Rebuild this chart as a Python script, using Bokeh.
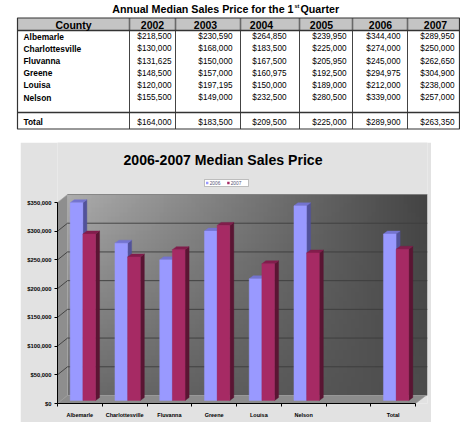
import numpy as np
from bokeh.plotting import figure
from bokeh.models import Range1d, FixedTicker, NumeralTickFormatter, Label, ColumnDataSource
from bokeh.core.properties import value
from bokeh.embed import file_html
from bokeh.resources import INLINE

# ---------------- data ----------------
years = ["2002", "2003", "2004", "2005", "2006", "2007"]
counties = ["Albemarle", "Charlottesville", "Fluvanna", "Greene", "Louisa", "Nelson"]
v2002 = [218500, 130000, 131625, 148500, 120000, 155500]
v2003 = [230590, 168000, 150000, 157000, 197195, 149000]
v2004 = [264850, 183500, 167500, 160975, 150000, 232500]
v2005 = [239950, 225000, 205950, 192500, 189000, 280500]
v2006 = [344400, 274000, 245000, 294975, 212000, 339000]
v2007 = [289950, 250000, 262650, 304900, 238000, 257000]
totals = [164000, 183500, 209500, 225000, 289900, 263350]
chart_categories = counties + ["", "Total"]
chart_series = ["2006", "2007"]
y_ticks = [0, 50000, 100000, 150000, 200000, 250000, 300000, 350000]

FONT = "Liberation Sans"

# ---------------- table figure (page pixel coordinates) ----------------
A = figure(width=460, height=132, x_range=Range1d(0, 460), y_range=Range1d(132, 0),
           output_backend="svg", toolbar_location=None, min_border=0,
           x_axis_type=None, y_axis_type=None, outline_line_color=None, title=None)
A.grid.visible = False

col_edges = [17, 129, 175, 240, 299, 352, 407, 459]
hdr_top, hdr_bot, tbl_bot, sep_y = 17.5, 30, 128.5, 112
hdr_centers = [73, 152, 205, 261, 321, 380, 435]
val_right = [171, 232, 286, 346, 400, 454]
row_mid = [36.0, 48.4, 60.6, 72.5, 84.7, 97.0]
total_mid = 121.7

A.quad(left=[col_edges[0]], right=[col_edges[-1]], top=[hdr_top], bottom=[hdr_bot],
       fill_color="#c4c4c4", line_color=None)
A.multi_line(xs=[[x, x] for x in col_edges[1:-1]], ys=[[hdr_top, hdr_bot]] * 6,
             line_color="#6a6a6a", line_width=1.6)
A.multi_line(xs=[[x, x] for x in col_edges[1:-1]], ys=[[hdr_bot, tbl_bot]] * 6,
             line_color="#444444", line_width=1)
A.multi_line(xs=[[col_edges[0], col_edges[-1]]] * 2, ys=[[hdr_bot, hdr_bot], [sep_y, sep_y]],
             line_color="#333333", line_width=1.4)
A.quad(left=[col_edges[0]], right=[col_edges[-1]], top=[hdr_top], bottom=[tbl_bot],
       fill_color=None, line_color="#333333", line_width=1.2)

TXT = dict(text_font=value(FONT), text_baseline="middle", text_color="black")
A.text(x=[293], y=[8.3], text=["Annual Median Sales Price for the 1"],
       text_font_style="bold", text_font_size="10.7px", text_align="right", **TXT)
A.text(x=[294], y=[5.2], text=["st"],
       text_font_style="bold", text_font_size="5.5px", text_align="left", **TXT)
A.text(x=[300], y=[8.3], text=[" Quarter"],
       text_font_style="bold", text_font_size="10.7px", text_align="left", **TXT)
A.text(x=hdr_centers, y=[24.0] * 7, text=["County"] + years,
       text_font_style="bold", text_font_size="10.5px", text_align="center", **TXT)
A.text(x=[23] * 7, y=row_mid + [total_mid], text=counties + ["Total"],
       text_font_style="bold", text_font_size="8.4px", text_align="left", **TXT)
cols = [v2002, v2003, v2004, v2005, v2006, v2007]
tx, ty, tt = [], [], []
for j, col in enumerate(cols):
    for r, v in enumerate(col):
        tx.append(val_right[j]); ty.append(row_mid[r]); tt.append(f"${v:,}")
    tx.append(val_right[j]); ty.append(total_mid); tt.append(f"${totals[j]:,}")
A.text(x=tx, y=ty, text=tt, text_font_size="8.2px", text_align="right", **TXT)

# ---------------- chart figure (placed at page x 20, y 142) ----------------
BG = "#e2e2e2"
CW = 44.75
PXV = 350000 / 201.0
X0, Y0 = 57, 403


def fx(px):
    return (px - X0) / CW


def fy(py):
    return (Y0 - py) * PXV


B = figure(width=411, height=280, x_range=Range1d(0, fx(427)), y_range=Range1d(0, fy(142)),
           output_backend="svg", toolbar_location=None, title=None,
           min_border_left=37, min_border_right=4, min_border_top=0, min_border_bottom=19,
           background_fill_color=BG, border_fill_color=BG, outline_line_color=None)
B.margin = (10, 0, 0, 20)
B.grid.visible = False

ncat = len(chart_categories)
DXw = 10 / CW
DYw = 8 * PXV
top_v = y_ticks[-1]

nx, ny = 90, 45
t = np.linspace(0, 1, nx)[None, :]
s = np.linspace(0, 1, ny)[:, None]
top_c = 172 + (68 - 172) * t
bot_c = 108 + (76 - 108) * t
val = (bot_c + (top_c - bot_c) * s).astype(np.uint8)
img = np.empty((ny, nx), dtype=np.uint32)
view = img.view(dtype=np.uint8).reshape((ny, nx, 4))
view[..., 0] = val
view[..., 1] = val
view[..., 2] = val
view[..., 3] = 255
B.image_rgba(image=[img], x=DXw, y=DYw, dw=fx(427) - DXw, dh=top_v)

B.patch(x=[0, 0, DXw, DXw], y=[0, top_v, top_v + DYw, DYw],
        fill_color="#8e8e8e", line_color="#a8a8a8", line_width=0.6)
B.patch(x=[0, ncat, ncat + 10.5 / CW, DXw], y=[0, 0, DYw, DYw],
        fill_color="#8c8c8c", line_color="#9a9a9a", line_width=0.6)

gx, gy = [], []
for v in y_ticks[1:-1]:
    gx.append([0, DXw, fx(427)])
    gy.append([v, v + DYw, v + DYw])
B.multi_line(xs=gx, ys=gy, line_color="#3c3c3c", line_width=0.9)
B.line(x=[DXw, fx(427)], y=[top_v + DYw, top_v + DYw], line_color="#777777", line_width=0.8)

W = 12.7 / CW
SH = 3 / CW
BY = 3 * PXV
DDX = 4 / CW
DDY = 3 * PXV
series_vals = [v2006 + [None, totals[4]], v2007 + [None, totals[5]]]
front_c = ["#9999FF", "#A62A64"]
top_c2 = ["#7474D0", "#821D4C"]
side_c = ["#52529A", "#5A1533"]
for k, vals in enumerate(series_vals):
    L, R, T, Bm = [], [], [], []
    sx, sy, tpx, tpy = [], [], [], []
    for i, v in enumerate(vals):
        if v is None:
            continue
        left = i + 0.5 + SH + (k - 1) * W
        right = left + W
        top = v + BY
        L.append(left); R.append(right); T.append(top); Bm.append(BY)
        sx.append([right, right, right + DDX, right + DDX])
        sy.append([BY, top, top + DDY, BY + DDY])
        tpx.append([left, right, right + DDX, left + DDX])
        tpy.append([top, top, top + DDY, top + DDY])
    B.patches(xs=sx, ys=sy, fill_color=side_c[k], line_color=side_c[k], line_width=0.4)
    B.patches(xs=tpx, ys=tpy, fill_color=top_c2[k], line_color=top_c2[k], line_width=0.4)
    src = ColumnDataSource(dict(left=L, right=R, top=T, bottom=Bm))
    B.quad(left="left", right="right", top="top", bottom="bottom", source=src,
           fill_color=front_c[k], line_color=front_c[k], line_width=0.4)

# legend
B.quad(left=[fx(204)], right=[fx(248)], top=[fy(179)], bottom=[fy(186)],
       fill_color="white", line_color="#9a9a9a", line_width=0.6)
sq_left = [205.5, 226.7]
txt_left = [209.2, 230.2]
B.quad(left=[fx(x) for x in sq_left], right=[fx(x + 2.4) for x in sq_left],
       top=[fy(181.3)] * 2, bottom=[fy(183.7)] * 2, fill_color=front_c, line_color=None)
B.text(x=[fx(x) for x in txt_left], y=[fy(182.5)] * 2, text=chart_series,
       text_font=value(FONT), text_font_size="4.8px", text_color="#555577",
       text_align="left", text_baseline="middle")

B.add_layout(Label(x=fx(222.5), y=fy(159.8), text="2006-2007 Median Sales Price",
                   text_font=FONT, text_font_style="bold", text_font_size="14.1px",
                   text_align="center", text_baseline="middle", text_color="black"))

yax = B.yaxis[0]
yax.ticker = FixedTicker(ticks=y_ticks)
yax.formatter = NumeralTickFormatter(format="$0,0")
yax.bounds = (0, top_v)
yax.axis_line_color = "black"
yax.major_tick_out = 3
yax.major_tick_in = 0
yax.minor_tick_out = 0
yax.minor_tick_in = 0
yax.major_label_standoff = 3
yax.major_label_text_font = FONT
yax.major_label_text_font_style = "bold"
yax.major_label_text_font_size = "5.8px"
yax.major_label_text_color = "black"

xax = B.xaxis[0]
xax.ticker = FixedTicker(ticks=[i + 0.5 for i in range(ncat)], minor_ticks=list(range(ncat + 1)))
xax.major_label_overrides = {i + 0.5: name for i, name in enumerate(chart_categories)}
xax.bounds = (0, ncat)
xax.axis_line_color = "black"
xax.major_tick_out = 0
xax.major_tick_in = 0
xax.minor_tick_out = 3
xax.minor_tick_in = 0
xax.major_label_standoff = 5
xax.major_label_text_font = FONT
xax.major_label_text_font_style = "bold"
xax.major_label_text_font_size = "5.5px"
xax.major_label_text_color = "black"

# two separate roots stacked on the page (no layout alignment between them)
open("out.html", "w").write(file_html([A, B], INLINE))
